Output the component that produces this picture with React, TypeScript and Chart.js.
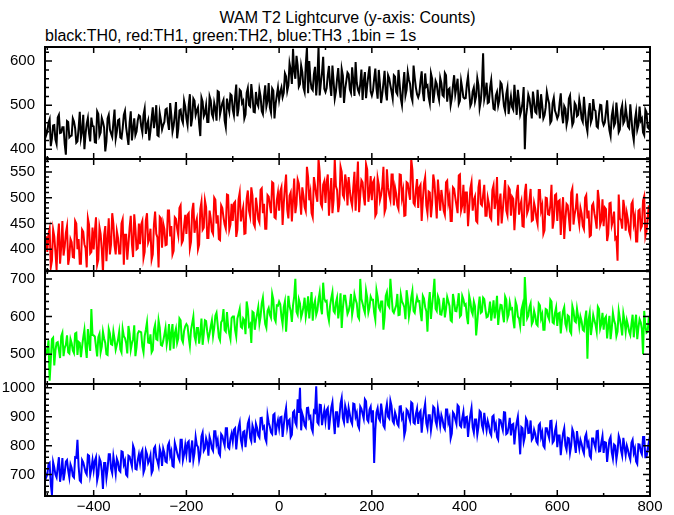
import React, { useEffect, useRef } from 'react';
import { Chart, registerables } from 'chart.js';

Chart.register(...registerables);

// ---------------- data ----------------
const TITLE = 'WAM T2 Lightcurve (y-axis: Counts)';
const SUBTITLE = 'black:TH0, red:TH1, green:TH2, blue:TH3 ,1bin = 1s';

// Samples are read on two interleaved grids: A at T0 + k*STEP, B at T0 + STEP/2 + k*STEP
const T0 = -505;
const STEP = 5;
const X_MIN = -505;
const X_MAX = 800;
const X_TICKS = [-400, -200, 0, 200, 400, 600, 800];

const TH0_A = [
  450,
  440, 468, 425, 455, 412, 478, 438, 450, 388, 462,
  430, 470, 448, 418, 485, 440, 400, 458, 436, 472,
  452, 415, 480, 438, 462, 395, 470, 445, 428, 490,
  440, 468, 425, 478, 450, 410, 486, 447, 432, 465,
  475, 438, 492, 455, 420, 470, 448, 500, 430, 466,
  455, 490, 462, 505, 440, 478, 425, 488, 468, 510,
  470, 500, 452, 515, 478, 495, 430, 508, 482, 462,
  520, 480, 505, 465, 530, 492, 512, 450, 498, 525,
  490, 518, 475, 535, 505, 470, 528, 500, 548, 485,
  530, 498, 520, 480, 545, 510, 495, 538, 470, 522,
  512, 540, 528, 565, 545, 580, 628, 560, 590, 548,
  575, 530, 630, 600, 538, 570, 522, 632, 550, 610,
  530, 568, 545, 590, 515, 560, 540, 582, 505, 555,
  570, 528, 555, 598, 535, 548, 512, 575, 545, 588,
  522, 560, 538, 580, 505, 550, 530, 568, 545, 515,
  565, 525, 548, 500, 575, 535, 558, 520, 590, 540,
  518, 555, 530, 572, 545, 505, 560, 528, 548, 512,
  550, 520, 568, 535, 500, 545, 525, 560, 510, 538,
  515, 548, 530, 505, 540, 520, 545, 510, 618, 528,
  505, 540, 520, 490, 530, 512, 548, 498, 525, 480,
  520, 490, 512, 535, 478, 505, 400, 495, 515, 470,
  510, 482, 500, 525, 470, 495, 515, 460, 505, 488,
  470, 505, 480, 498, 455, 515, 485, 462, 500, 478,
  495, 462, 485, 440, 505, 470, 490, 452, 480, 500,
  455, 485, 468, 430, 492, 460, 478, 445, 500, 465,
  475, 448, 470, 420, 485, 455, 465, 438, 490, 450,
  460,
];
const TH0_B = [
  432,
  460, 407, 454, 422, 472, 437, 450, 412, 464, 427,
  431, 463, 415, 448, 425, 478, 435, 471, 418, 453,
  416, 486, 431, 471, 449, 418, 478, 436, 461, 424,
  466, 427, 447, 487, 430, 460, 420, 470, 440, 477,
  452, 478, 435, 465, 442, 495, 468, 432, 482, 445,
  462, 492, 444, 477, 454, 507, 447, 490, 460, 497,
  455, 525, 470, 510, 488, 457, 517, 475, 500, 462,
  511, 472, 492, 532, 479, 505, 465, 515, 485, 522,
  477, 547, 492, 532, 510, 479, 539, 497, 522, 484,
  505, 535, 487, 520, 497, 550, 483, 533, 503, 540,
  530, 518, 572, 532, 595, 548, 578, 612, 542, 590,
  540, 592, 527, 557, 534, 587, 560, 522, 574, 537,
  539, 589, 521, 554, 531, 584, 517, 567, 537, 574,
  536, 586, 521, 551, 528, 581, 554, 516, 568, 531,
  533, 583, 515, 548, 525, 578, 511, 561, 531, 568,
  530, 580, 515, 545, 522, 575, 548, 510, 562, 525,
  527, 577, 509, 542, 519, 572, 505, 555, 525, 562,
  523, 573, 508, 538, 515, 568, 541, 503, 555, 518,
  516, 566, 498, 531, 508, 561, 494, 544, 514, 551,
  507, 557, 492, 522, 499, 552, 525, 487, 539, 502,
  496, 546, 478, 511, 488, 541, 474, 524, 494, 531,
  485, 535, 470, 500, 477, 530, 503, 465, 517, 480,
  477, 527, 459, 492, 469, 522, 455, 505, 475, 512,
  469, 519, 454, 484, 461, 514, 487, 449, 501, 464,
  461, 511, 443, 476, 453, 506, 439, 489, 459, 496,
  452, 502, 437, 467, 444, 497, 470, 432, 484, 447,
];

const TH1_A = [
  400,
  395, 440, 378, 425, 360, 450, 405, 388, 432, 370,
  420, 385, 455, 400, 372, 438, 410, 365, 448, 395,
  400, 462, 380, 430, 355, 445, 418, 390, 470, 408,
  435, 392, 450, 370, 428, 410, 465, 385, 440, 402,
  410, 455, 395, 470, 420, 380, 448, 430, 365, 460,
  450, 408, 475, 425, 390, 462, 440, 480, 412, 445,
  430, 470, 415, 490, 450, 400, 478, 438, 495, 422,
  475, 435, 500, 450, 420, 485, 462, 440, 505, 448,
  455, 492, 438, 510, 470, 430, 498, 475, 520, 450,
  500, 458, 515, 470, 440, 505, 485, 530, 462, 495,
  475, 520, 488, 545, 460, 510, 495, 470, 535, 500,
  520, 482, 560, 495, 470, 540, 505, 575, 488, 525,
  490, 545, 505, 470, 575, 515, 488, 550, 500, 530,
  540, 495, 520, 475, 570, 505, 530, 485, 555, 510,
  495, 535, 470, 525, 505, 560, 480, 520, 495, 545,
  520, 485, 545, 500, 465, 530, 510, 575, 490, 515,
  480, 525, 495, 540, 470, 510, 488, 530, 460, 505,
  515, 475, 530, 490, 455, 520, 500, 470, 545, 485,
  470, 510, 480, 530, 495, 455, 520, 488, 505, 465,
  500, 462, 515, 478, 540, 490, 450, 505, 475, 520,
  465, 498, 475, 525, 485, 445, 510, 470, 495, 455,
  490, 460, 515, 475, 430, 500, 468, 485, 440, 505,
  455, 495, 470, 420, 488, 462, 510, 448, 480, 465,
  480, 445, 500, 460, 425, 485, 470, 440, 495, 455,
  445, 478, 430, 490, 455, 420, 378, 460, 440, 480,
  470, 435, 488, 450, 415, 475, 440, 495, 425, 462,
  450,
];
const TH1_B = [
  425,
  430, 365, 438, 395, 422, 372, 455, 405, 445, 385,
  414, 384, 450, 420, 372, 434, 402, 460, 392, 442,
  435, 370, 443, 400, 427, 377, 460, 410, 450, 390,
  422, 392, 458, 428, 380, 442, 410, 468, 400, 450,
  448, 383, 456, 413, 440, 390, 473, 423, 463, 403,
  439, 409, 475, 445, 397, 459, 427, 485, 417, 467,
  467, 402, 475, 432, 459, 409, 492, 442, 482, 422,
  460, 430, 496, 466, 418, 480, 448, 506, 438, 488,
  489, 424, 497, 454, 481, 431, 514, 464, 504, 444,
  482, 452, 518, 488, 440, 502, 470, 528, 460, 510,
  512, 447, 520, 477, 504, 454, 537, 487, 527, 467,
  504, 474, 540, 510, 462, 524, 492, 550, 482, 532,
  530, 465, 538, 495, 522, 472, 560, 505, 545, 485,
  514, 484, 550, 520, 472, 534, 502, 565, 492, 542,
  530, 465, 538, 495, 522, 472, 555, 505, 545, 485,
  508, 478, 544, 514, 466, 528, 496, 554, 486, 536,
  520, 455, 528, 485, 512, 462, 545, 495, 535, 475,
  497, 467, 533, 503, 455, 517, 485, 543, 475, 525,
  510, 445, 518, 475, 502, 452, 535, 485, 525, 465,
  488, 458, 524, 494, 446, 508, 476, 534, 466, 516,
  502, 437, 510, 467, 494, 444, 527, 477, 517, 457,
  479, 449, 515, 485, 437, 499, 467, 525, 457, 507,
  493, 428, 501, 458, 485, 435, 518, 468, 508, 448,
  469, 439, 505, 475, 427, 489, 457, 515, 447, 497,
  481, 416, 489, 446, 473, 423, 506, 456, 496, 436,
  457, 427, 493, 463, 415, 477, 445, 503, 435, 485,
];

const TH2_A = [
  520,
  505, 430, 540, 470, 530, 512, 548, 495, 525, 505,
  540, 510, 555, 498, 530, 520, 565, 490, 535, 620,
  550, 520, 545, 505, 560, 530, 498, 555, 525, 540,
  525, 560, 505, 548, 530, 575, 512, 540, 495, 555,
  560, 520, 548, 585, 530, 505, 565, 540, 590, 525,
  535, 570, 545, 510, 580, 555, 530, 595, 540, 562,
  580, 545, 565, 600, 535, 570, 555, 525, 590, 560,
  555, 590, 570, 610, 545, 585, 620, 560, 575, 540,
  600, 565, 595, 620, 570, 590, 640, 575, 530, 610,
  590, 625, 600, 650, 580, 615, 605, 660, 595, 630,
  640, 600, 625, 560, 655, 615, 630, 700, 605, 635,
  610, 650, 620, 595, 665, 630, 605, 645, 625, 690,
  640, 605, 630, 665, 610, 650, 620, 570, 655, 632,
  615, 660, 625, 645, 600, 700, 635, 610, 650, 625,
  645, 610, 670, 625, 640, 565, 655, 630, 700, 615,
  620, 660, 605, 640, 625, 670, 600, 650, 615, 635,
  640, 610, 655, 625, 560, 665, 630, 700, 615, 645,
  605, 650, 620, 640, 590, 660, 615, 635, 600, 655,
  630, 600, 655, 615, 640, 550, 625, 610, 650, 620,
  600, 640, 615, 595, 655, 610, 630, 585, 645, 605,
  620, 590, 640, 600, 575, 630, 705, 595, 625, 580,
  615, 580, 635, 595, 565, 620, 600, 645, 585, 610,
  575, 610, 590, 625, 570, 600, 555, 615, 585, 600,
  600, 565, 595, 488, 610, 575, 590, 560, 620, 580,
  565, 600, 575, 540, 610, 580, 560, 595, 550, 590,
  590, 560, 580, 545, 605, 570, 585, 500, 575, 560,
  572,
];
const TH2_B = [
  500,
  537, 484, 544, 510, 532, 490, 557, 517, 550, 502,
  529, 503, 557, 533, 492, 545, 519, 567, 509, 551,
  547, 494, 554, 520, 542, 500, 567, 527, 560, 512,
  539, 513, 567, 543, 502, 555, 529, 577, 519, 561,
  558, 505, 565, 531, 553, 511, 578, 538, 571, 523,
  552, 526, 580, 556, 515, 568, 542, 590, 532, 574,
  575, 522, 582, 548, 570, 528, 595, 555, 588, 540,
  574, 548, 602, 578, 537, 590, 564, 612, 554, 596,
  600, 547, 607, 573, 595, 553, 620, 580, 613, 565,
  607, 581, 635, 611, 570, 623, 597, 645, 587, 629,
  633, 580, 640, 606, 628, 586, 653, 613, 646, 598,
  626, 600, 654, 630, 589, 642, 616, 664, 606, 648,
  642, 589, 649, 615, 637, 595, 662, 622, 655, 607,
  631, 605, 659, 635, 594, 647, 621, 669, 611, 653,
  645, 592, 652, 618, 640, 598, 665, 625, 658, 610,
  630, 604, 658, 634, 593, 646, 620, 668, 610, 652,
  641, 588, 648, 614, 636, 594, 661, 621, 654, 606,
  624, 598, 652, 628, 587, 640, 614, 662, 604, 646,
  633, 580, 640, 606, 628, 586, 653, 613, 646, 598,
  615, 589, 643, 619, 578, 631, 605, 653, 595, 637,
  622, 569, 629, 595, 617, 575, 642, 602, 635, 587,
  602, 576, 630, 606, 565, 618, 592, 640, 582, 624,
  608, 555, 615, 581, 603, 561, 628, 588, 621, 573,
  588, 562, 616, 592, 551, 604, 578, 626, 568, 610,
  595, 542, 602, 568, 590, 548, 615, 575, 608, 560,
  577, 551, 605, 581, 540, 593, 567, 615, 557, 599,
];

const TH3_A = [
  710,
  700, 740, 630, 725, 690, 760, 705, 680, 745, 715,
  735, 695, 760, 820, 680, 750, 725, 700, 765, 720,
  715, 760, 700, 745, 650, 740, 720, 770, 705, 735,
  755, 715, 780, 735, 700, 765, 745, 800, 720, 750,
  740, 785, 720, 770, 750, 705, 790, 760, 730, 775,
  790, 745, 800, 765, 730, 810, 775, 750, 820, 770,
  770, 815, 785, 750, 830, 795, 770, 845, 790, 810,
  830, 790, 850, 805, 775, 840, 815, 860, 795, 825,
  815, 860, 830, 880, 800, 850, 835, 890, 815, 855,
  875, 835, 895, 860, 825, 905, 865, 840, 910, 870,
  860, 900, 870, 930, 885, 830, 915, 880, 960, 1000,
  910, 870, 930, 895, 860, 920, 1005, 875, 940, 900,
  885, 930, 895, 950, 840, 915, 900, 965, 880, 920,
  930, 885, 945, 900, 870, 935, 910, 960, 890, 925,
  880, 740, 915, 895, 945, 870, 920, 900, 955, 885,
  915, 875, 935, 895, 835, 925, 900, 950, 880, 910,
  875, 920, 890, 945, 860, 905, 885, 930, 870, 900,
  905, 865, 925, 880, 825, 915, 890, 940, 870, 895,
  860, 900, 875, 930, 845, 890, 865, 915, 855, 880,
  885, 845, 900, 860, 830, 890, 870, 915, 840, 865,
  835, 875, 850, 900, 770, 860, 830, 885, 845, 820,
  855, 815, 870, 830, 800, 860, 840, 885, 810, 850,
  795, 835, 810, 860, 785, 825, 800, 845, 775, 815,
  820, 785, 830, 800, 765, 825, 805, 850, 780, 810,
  775, 810, 785, 830, 755, 800, 780, 820, 765, 795,
  800, 765, 810, 775, 745, 805, 780, 830, 760, 790,
  775,
];
const TH3_B = [
  690,
  735, 667, 743, 700, 727, 675, 757, 707, 750, 690,
  723, 690, 758, 728, 675, 742, 708, 768, 698, 750,
  748, 680, 756, 713, 740, 688, 770, 720, 763, 703,
  743, 710, 778, 748, 695, 762, 728, 788, 718, 770,
  775, 707, 783, 740, 767, 715, 797, 747, 790, 730,
  775, 742, 810, 780, 727, 794, 760, 820, 750, 802,
  810, 742, 818, 775, 802, 750, 832, 782, 825, 765,
  815, 782, 850, 820, 767, 834, 800, 860, 790, 842,
  855, 787, 863, 820, 847, 795, 877, 827, 870, 810,
  861, 828, 896, 866, 813, 880, 846, 906, 836, 888,
  898, 830, 906, 863, 890, 838, 920, 870, 913, 853,
  896, 863, 931, 901, 848, 915, 881, 941, 871, 923,
  923, 855, 931, 888, 915, 863, 945, 895, 938, 878,
  908, 875, 943, 913, 860, 927, 893, 953, 883, 935,
  922, 854, 930, 887, 914, 862, 944, 894, 937, 877,
  901, 868, 936, 906, 853, 920, 886, 946, 876, 928,
  913, 845, 921, 878, 905, 853, 935, 885, 928, 868,
  890, 857, 925, 895, 842, 909, 875, 935, 865, 917,
  898, 830, 906, 863, 890, 838, 920, 870, 913, 853,
  869, 836, 904, 874, 821, 888, 854, 914, 844, 896,
  872, 804, 880, 837, 864, 812, 894, 844, 887, 827,
  841, 808, 876, 846, 793, 860, 826, 886, 816, 868,
  835, 767, 843, 800, 827, 775, 857, 807, 850, 790,
  806, 773, 841, 811, 758, 825, 791, 851, 781, 833,
  812, 744, 820, 777, 804, 752, 834, 784, 827, 767,
  785, 752, 820, 790, 737, 804, 770, 830, 760, 812,
];

const SERIES_A = [TH0_A, TH1_A, TH2_A, TH3_A];
const SERIES_B = [TH0_B, TH1_B, TH2_B, TH3_B];
const COLORS = ['#000000', '#ff0000', '#00ff00', '#0000ff'];
const Y_MIN = [378, 358, 421, 626];
const Y_MAX = [632, 575, 721, 1013];
const Y_TICKS = [
  [400, 500, 600],
  [400, 450, 500, 550],
  [500, 600, 700],
  [700, 800, 900, 1000],
];
const Y_MINOR_STEP = [20, 10, 20, 20];
const Y_MAJOR_STEP = [100, 50, 100, 100];
const X_MINOR_STEP = 100;
const X_MAJOR_STEP = 200;

// ---------------- layout ----------------
const W = 674;
const PANEL_TOP = [47, 159, 271, 384];
const PANEL_BOTTOM = [159, 271, 384, 496];
const PLOT_LEFT = 45;
const PLOT_RIGHT = 650;
const PAD = 24;
const XAXIS_H = 19;
const LINE_W = 2;
const FONT = "'Liberation Sans', Arial, Helvetica, sans-serif";

const framePlugin = {
  id: 'frame',
  afterDatasetsDraw(chart: any, _args: any, opts: any) {
    const { ctx, chartArea: a, scales } = chart;
    const xs = scales.x;
    const ys = scales.y;
    ctx.save();
    ctx.strokeStyle = '#000';
    ctx.lineWidth = 1.5;
    ctx.beginPath();
    const x0 = Math.ceil(xs.min / X_MINOR_STEP) * X_MINOR_STEP;
    for (let v = x0; v <= xs.max + 1e-6; v += X_MINOR_STEP) {
      const px = xs.getPixelForValue(v);
      const len = v % X_MAJOR_STEP === 0 ? 6 : 3;
      ctx.moveTo(px, a.top);
      ctx.lineTo(px, a.top + len);
      ctx.moveTo(px, a.bottom);
      ctx.lineTo(px, a.bottom - len);
    }
    const minor = opts.minor;
    const major = opts.major;
    const y0 = Math.ceil(ys.min / minor) * minor;
    for (let v = y0; v <= ys.max + 1e-6; v += minor) {
      const py = ys.getPixelForValue(v);
      const len = v % major === 0 ? 7 : 4;
      ctx.moveTo(a.left, py);
      ctx.lineTo(a.left + len, py);
      ctx.moveTo(a.right, py);
      ctx.lineTo(a.right - len, py);
    }
    ctx.stroke();
    ctx.lineWidth = 2;
    ctx.strokeRect(a.left, a.top, a.right - a.left, a.bottom - a.top);
    ctx.restore();
  },
};

function minusLabel(v: number) {
  return v < 0 ? '\u2212' + Math.abs(v) : String(v);
}

export default function App() {
  const canvases = useRef<(HTMLCanvasElement | null)[]>([]);

  useEffect(() => {
    const charts = SERIES_A.map((valsA, i) => {
      const last = i === SERIES_A.length - 1;
      const points = [
        ...valsA.map((y, k) => ({ x: T0 + k * STEP, y })),
        ...SERIES_B[i].map((y, k) => ({ x: T0 + STEP / 2 + k * STEP, y })),
      ].sort((p, q) => p.x - q.x);
      return new Chart(canvases.current[i] as HTMLCanvasElement, {
        type: 'line',
        data: {
          datasets: [
            {
              data: points,
              borderColor: COLORS[i],
              borderWidth: LINE_W,
              borderJoinStyle: 'miter',
              pointRadius: 0,
              tension: 0,
              fill: false,
            },
          ],
        },
        options: {
          animation: false,
          responsive: false,
          devicePixelRatio: 1,
          events: [],
          layout: {
            padding: { left: 0, right: W - PLOT_RIGHT, top: PAD, bottom: last ? 0 : PAD },
          },
          plugins: {
            legend: { display: false },
            tooltip: { enabled: false },
            title: { display: false },
            frame: { minor: Y_MINOR_STEP[i], major: Y_MAJOR_STEP[i] },
          } as any,
          scales: {
            x: {
              type: 'linear',
              min: X_MIN,
              max: X_MAX,
              display: last,
              grid: { display: false, drawTicks: false },
              border: { display: false },
              ticks: {
                autoSkip: false,
                maxRotation: 0,
                padding: 2,
                color: '#000',
                font: { family: FONT, size: 15 },
                callback: (v: any) => minusLabel(Number(v)),
              },
              afterBuildTicks: (s: any) => {
                s.ticks = X_TICKS.map((v) => ({ value: v }));
              },
              afterFit: (s: any) => {
                s.height = last ? XAXIS_H : 0;
                s.paddingLeft = 0;
                s.paddingRight = 0;
              },
            },
            y: {
              type: 'linear',
              min: Y_MIN[i],
              max: Y_MAX[i],
              grid: { display: false, drawTicks: false },
              border: { display: false },
              ticks: {
                padding: 10,
                color: '#000',
                font: { family: FONT, size: 15 },
                callback: (v: any) => String(v),
              },
              afterBuildTicks: (s: any) => {
                s.ticks = Y_TICKS[i].map((v) => ({ value: v }));
              },
              afterFit: (s: any) => {
                s.width = PLOT_LEFT;
                s.paddingTop = 0;
                s.paddingBottom = 0;
              },
            },
          },
        } as any,
        plugins: [framePlugin as any],
      });
    });
    return () => charts.forEach((c) => c.destroy());
  }, []);

  return (
    <div
      style={{
        position: 'absolute',
        left: 0,
        top: 0,
        width: W,
        height: 515,
        background: '#fff',
        overflow: 'hidden',
      }}
    >
      <div
        style={{
          position: 'absolute',
          left: PLOT_LEFT,
          width: PLOT_RIGHT - PLOT_LEFT,
          top: 10,
          textAlign: 'center',
          fontFamily: FONT,
          fontSize: 16,
          lineHeight: '16px',
          color: '#000',
          whiteSpace: 'nowrap',
        }}
      >
        {TITLE}
      </div>
      <div
        style={{
          position: 'absolute',
          left: PLOT_LEFT,
          top: 28,
          fontFamily: FONT,
          fontSize: 16,
          lineHeight: '16px',
          color: '#000',
          whiteSpace: 'nowrap',
        }}
      >
        {SUBTITLE}
      </div>
      {SERIES_A.map((_, i) => {
        const last = i === SERIES_A.length - 1;
        const top = PANEL_TOP[i] - PAD;
        const h = PANEL_BOTTOM[i] - PANEL_TOP[i] + PAD + (last ? XAXIS_H : PAD);
        return (
          <canvas
            key={i}
            ref={(el) => {
              canvases.current[i] = el;
            }}
            width={W}
            height={h}
            style={{ position: 'absolute', left: 0, top, width: W, height: h, display: 'block' }}
          />
        );
      })}
    </div>
  );
}
